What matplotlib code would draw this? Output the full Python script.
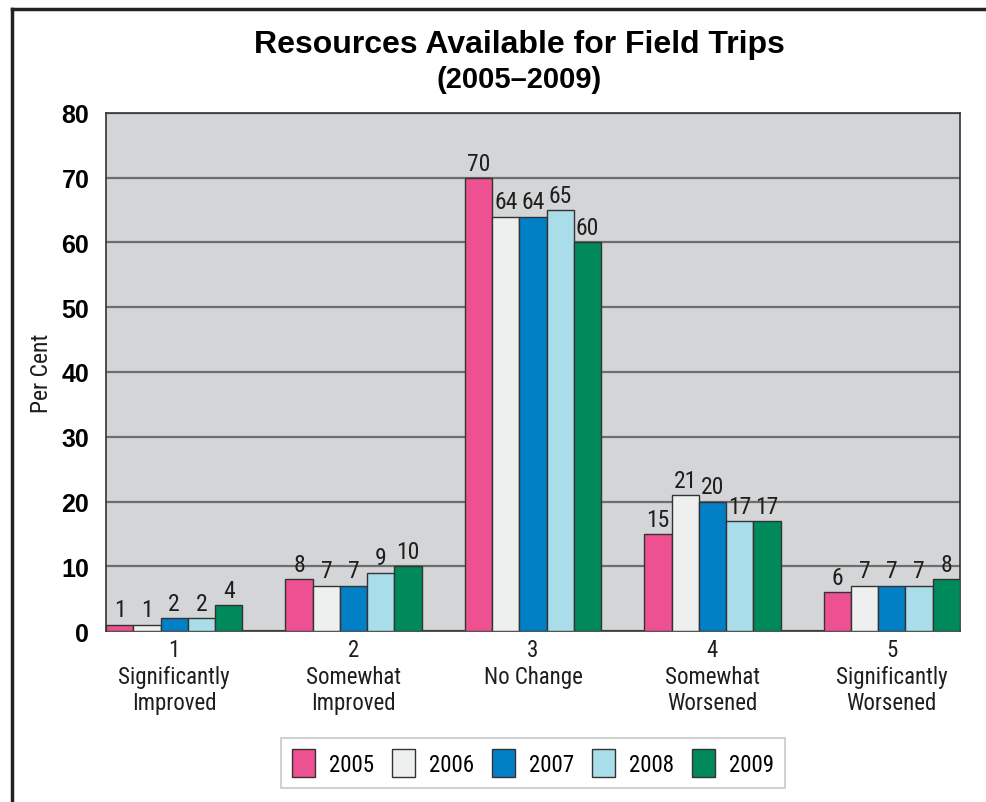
import numpy as np
import matplotlib.pyplot as plt
from matplotlib.lines import Line2D
from matplotlib import font_manager

# --- data ---
categories = ['1\nSignificantly\nImproved', '2\nSomewhat\nImproved', '3\nNo Change',
              '4\nSomewhat\nWorsened', '5\nSignificantly\nWorsened']
years = ['2005', '2006', '2007', '2008', '2009']
v2005 = [1, 8, 70, 15, 6]
v2006 = [1, 7, 64, 21, 7]
v2007 = [2, 7, 64, 20, 7]
v2008 = [2, 9, 65, 17, 7]
v2009 = [4, 10, 60, 17, 8]
series = [v2005, v2006, v2007, v2008, v2009]
colors = ['#EE5191', '#EEF0EF', '#0280C6', '#AADDEA', '#008A5C']

names = {f.name for f in font_manager.fontManager.ttflist}
narrow = 'Roboto Condensed' if 'Roboto Condensed' in names else 'Roboto'
bold = 'Liberation Sans'
txt = '#1e1e1e'

fig = plt.figure(figsize=(9.87, 8.03), dpi=100)
ax = fig.add_axes([106/987, 1-632/803, 854/987, 518/803])
ax.set_facecolor('#D4D5D7')

x = np.arange(len(categories))
w = 0.152
for i, (vals, c) in enumerate(zip(series, colors)):
    pos = x + (i - 2) * w
    ax.bar(pos, vals, w, color=c, edgecolor='#333333', linewidth=1.0,
           label=years[i], zorder=3)
    for p, v in zip(pos, vals):
        ax.text(p, v + 0.5, str(v), ha='center', va='bottom', fontsize=17,
                family=narrow, color=txt, zorder=4)

ax.set_xlim(-0.38, 4.38)
ax.set_ylim(0, 80)
ax.set_yticks(range(0, 81, 10))
ax.yaxis.grid(True, color='#6e6e6e', linewidth=1.6, zorder=1)
ax.set_axisbelow(True)
ax.tick_params(axis='y', length=0, pad=12)
ax.tick_params(axis='x', length=0, pad=5)
for lab in ax.get_yticklabels():
    lab.set_fontsize(18)
    lab.set_fontweight('bold')
    lab.set_family(bold)
ax.set_xticks(x)
ax.set_xticklabels(categories, fontsize=16.5, family=narrow,
                   color=txt, linespacing=1.2)
for s in ax.spines.values():
    s.set_color('#333333')
    s.set_linewidth(1.2)

ax.set_ylabel('Per Cent', fontsize=17, family=narrow,
              color=txt, labelpad=6)

fig.text(519/987, 1-45/803, 'Resources Available for Field Trips', ha='center', va='center',
         fontsize=23, fontweight='bold', family=bold)
fig.text(519/987, 1-80/803, '(2005\u20132009)', ha='center', va='center',
         fontsize=21, fontweight='bold', family=bold)

leg = fig.legend(loc='center', bbox_to_anchor=(533/987, 1-764/803), ncol=5,
                 prop={'family': narrow, 'size': 16.5},
                 frameon=True, fancybox=False,
                 handlelength=1.0, handleheight=1.5, handletextpad=0.6,
                 columnspacing=0.8, borderpad=0.5)
leg.get_frame().set_edgecolor('#bbbbbb')
leg.get_frame().set_linewidth(1.2)

# outer frame (left and top)
fig.add_artist(Line2D([12/987, 12/987], [0, 1-10/803], color='#222222', linewidth=2.5))
fig.add_artist(Line2D([12/987, 1], [1-10/803, 1-10/803], color='#222222', linewidth=2.5))

fig.savefig('out.png', dpi=100)
